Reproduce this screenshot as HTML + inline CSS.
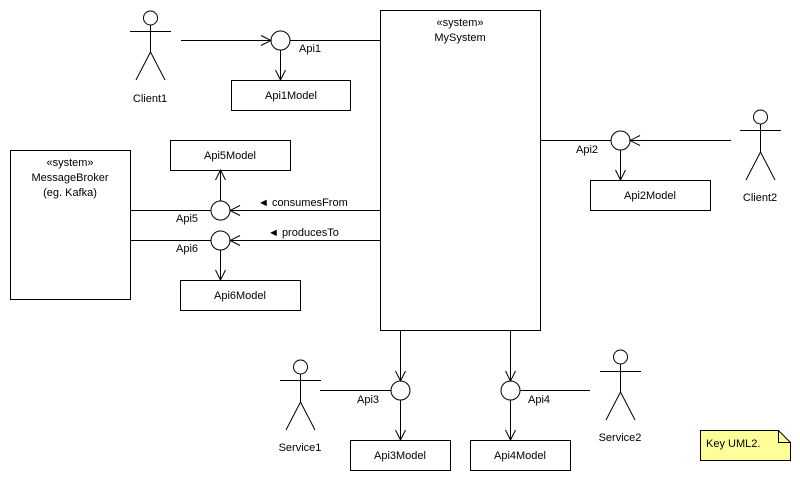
<!DOCTYPE html>
<html><head><meta charset="utf-8"><style>
html,body{margin:0;padding:0;background:#fff;}
svg{display:block;}
text{font-family:"Liberation Sans",sans-serif;font-size:11px;fill:#000;}
</style></head><body>
<svg width="800" height="480" viewBox="0 0 800 480" xmlns="http://www.w3.org/2000/svg">
<defs>
<marker id="a" markerWidth="12" markerHeight="12" refX="11" refY="6" orient="auto" markerUnits="userSpaceOnUse">
<path d="M1,1 L11,6 L1,11" fill="none" stroke="#000" stroke-width="1"/>
</marker>
</defs>
<g fill="none" stroke="#000" stroke-width="1">
<!-- MySystem -->
<rect x="380.5" y="10.5" width="160" height="320" fill="#fff"/>
<!-- MessageBroker -->
<rect x="10.5" y="150.5" width="120" height="149" fill="#fff"/>
<!-- models -->
<rect x="231.5" y="80.5" width="119" height="30"/>
<rect x="590.5" y="180.5" width="120" height="30"/>
<rect x="170.5" y="140.5" width="120" height="30"/>
<rect x="180.5" y="280.5" width="120" height="30"/>
<rect x="350.5" y="440.5" width="100" height="30"/>
<rect x="470.5" y="440.5" width="100" height="30"/>

<!-- Api1 -->
<line x1="181" y1="40.5" x2="271" y2="40.5" marker-end="url(#a)"/>
<circle cx="280.5" cy="40.5" r="9.5"/>
<line x1="290" y1="40.5" x2="380" y2="40.5"/>
<line x1="280.5" y1="50" x2="280.5" y2="80" marker-end="url(#a)"/>
<!-- Api2 -->
<line x1="540" y1="140.5" x2="611" y2="140.5"/>
<circle cx="620.5" cy="140.5" r="9.5"/>
<line x1="731" y1="140.5" x2="630" y2="140.5" marker-end="url(#a)"/>
<line x1="620.5" y1="150" x2="620.5" y2="180" marker-end="url(#a)"/>
<!-- Api5 -->
<line x1="130" y1="210.5" x2="211" y2="210.5"/>
<circle cx="220.5" cy="210.5" r="9.5"/>
<line x1="380" y1="210.5" x2="230" y2="210.5" marker-end="url(#a)"/>
<line x1="220.5" y1="201" x2="220.5" y2="170" marker-end="url(#a)"/>
<!-- Api6 -->
<line x1="130" y1="240.5" x2="211" y2="240.5"/>
<circle cx="220.5" cy="240.5" r="9.5"/>
<line x1="380" y1="240.5" x2="230" y2="240.5" marker-end="url(#a)"/>
<line x1="220.5" y1="250" x2="220.5" y2="280" marker-end="url(#a)"/>
<!-- Api3 -->
<line x1="400.5" y1="330" x2="400.5" y2="381" marker-end="url(#a)"/>
<circle cx="400.5" cy="390.5" r="9.5"/>
<line x1="320" y1="390.5" x2="391" y2="390.5"/>
<line x1="400.5" y1="400" x2="400.5" y2="440" marker-end="url(#a)"/>
<!-- Api4 -->
<line x1="510.5" y1="330" x2="510.5" y2="381" marker-end="url(#a)"/>
<circle cx="510.5" cy="390.5" r="9.5"/>
<line x1="520" y1="390.5" x2="590" y2="390.5"/>
<line x1="510.5" y1="400" x2="510.5" y2="440" marker-end="url(#a)"/>

<!-- actors -->
<g id="act1">
<circle cx="150.5" cy="18" r="7"/>
<line x1="150.5" y1="25" x2="150.5" y2="52"/>
<line x1="130" y1="31.5" x2="171" y2="31.5"/>
<path d="M136,80 L150.5,52 L165,80"/>
</g>
<circle cx="760.5" cy="117" r="7"/>
<line x1="760.5" y1="124" x2="760.5" y2="152"/>
<line x1="740" y1="130.5" x2="781" y2="130.5"/>
<path d="M746,180 L760.5,152 L775,180"/>

<circle cx="300.5" cy="367" r="7"/>
<line x1="300.5" y1="374" x2="300.5" y2="402"/>
<line x1="280" y1="380.5" x2="321" y2="380.5"/>
<path d="M286,430 L300.5,402 L315,430"/>

<circle cx="620.5" cy="357" r="7"/>
<line x1="620.5" y1="364" x2="620.5" y2="392"/>
<line x1="600" y1="371.5" x2="641" y2="371.5"/>
<path d="M606,420 L620.5,392 L635,420"/>

<!-- note -->
<path d="M700.5,430.5 L778.5,430.5 L790.5,442.5 L790.5,460.5 L700.5,460.5 Z" fill="#ffff99"/>
<path d="M778.5,430.5 L778.5,442.5 L790.5,442.5"/>
</g>

<g text-anchor="middle">
<text x="460" y="26">«system»</text>
<text x="460" y="41">MySystem</text>
<text x="70" y="166">«system»</text>
<text x="70" y="181">MessageBroker</text>
<text x="70" y="196">(eg. Kafka)</text>
<text x="291" y="99">Api1Model</text>
<text x="650" y="199">Api2Model</text>
<text x="230" y="159">Api5Model</text>
<text x="240" y="299">Api6Model</text>
<text x="400" y="459">Api3Model</text>
<text x="520" y="459">Api4Model</text>
<text x="150" y="102">Client1</text>
<text x="760" y="201">Client2</text>
<text x="300" y="451">Service1</text>
<text x="620" y="441">Service2</text>
</g>
<text x="299" y="52">Api1</text>
<text x="576" y="153">Api2</text>
<text x="176" y="222">Api5</text>
<text x="176" y="252">Api6</text>
<text x="357" y="403">Api3</text>
<text x="528" y="403">Api4</text>
<text x="258" y="206">◄ consumesFrom</text>
<text x="268" y="236">◄ producesTo</text>
<text x="706" y="447">Key UML2.</text>
</svg>
</body></html>
